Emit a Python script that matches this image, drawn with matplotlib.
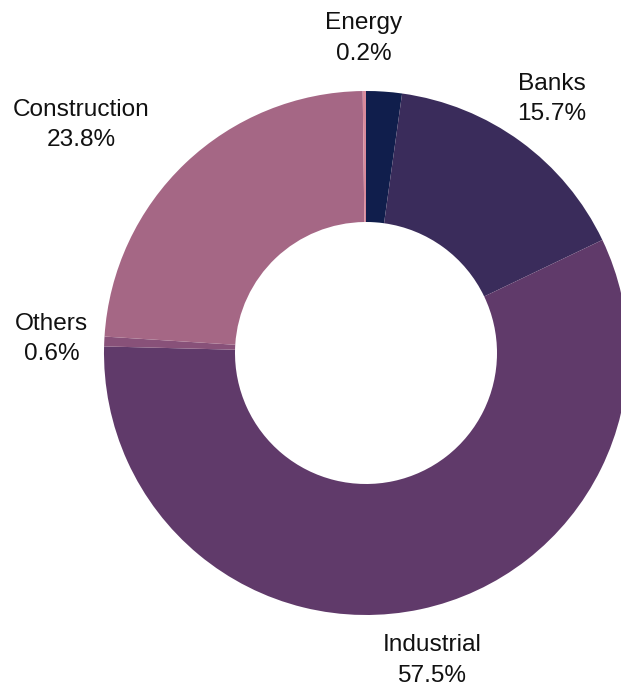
import numpy as np
import matplotlib
matplotlib.use('Agg')
import matplotlib.pyplot as plt

plt.rcParams['font.family'] = ['Liberation Sans', 'DejaVu Sans']

sectors = ['', 'Banks', 'Industrial', 'Others', 'Construction', 'Energy']
shares = [2.2, 15.7, 57.5, 0.6, 23.8, 0.2]
colors = ['#101e4c', '#3a2c5b', '#603a6a', '#885179', '#a56785', '#d88a9c']

fig = plt.figure(figsize=(6.21, 6.88), dpi=100)
ax = fig.add_axes([0, 0, 1, 1])

wedges, _ = ax.pie(shares, colors=colors, startangle=90, counterclock=False,
                   wedgeprops=dict(width=0.5, linewidth=0))

for w, name, val in zip(wedges, sectors, shares):
    if not name:
        continue
    ang = np.deg2rad((w.theta1 + w.theta2) / 2)
    x, y = 1.2 * np.cos(ang), 1.2 * np.sin(ang)
    ha = 'right' if name == 'Construction' else 'center'
    ax.text(x, y, f'{name}\n{val}%', ha=ha, va='center', multialignment='center',
            fontsize=17.6, linespacing=1.5, color='#111111')

# pie is centred at (366, 353) px with outer radius 262 px
r_px = 262
ax.set_xlim(-366 / r_px, (621 - 366) / r_px)
ax.set_ylim(-(688 - 353) / r_px, 353 / r_px)
ax.set_aspect('equal')
ax.axis('off')

plt.savefig('out.png', dpi=100)
print('Done')
